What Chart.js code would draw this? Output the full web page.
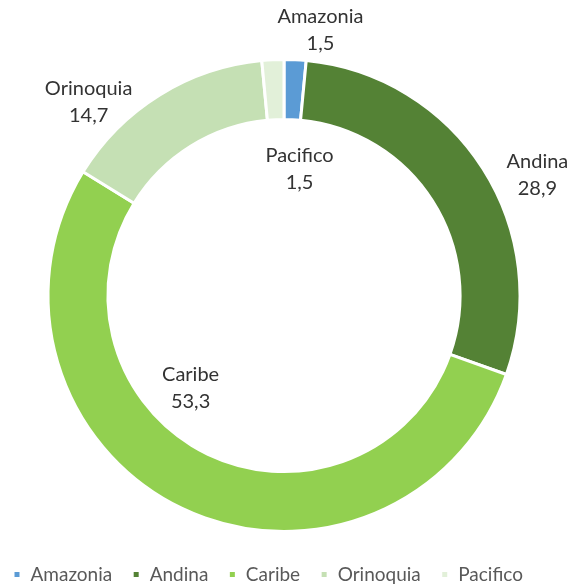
<!DOCTYPE html>
<html lang="es">
<head>
    <meta charset="UTF-8">
    <title>Regiones</title>
    <script src="https://cdn.jsdelivr.net/npm/chart.js@4.4.0/dist/chart.umd.min.js"></script>
    <style>
        html, body { margin: 0; padding: 0; background: #fff; }
        #wrap { width: 569px; height: 585px; }
    </style>
</head>
<body>
    <div id="wrap"><canvas id="chartCanvas" width="569" height="585"></canvas></div>
    <script>
        var regions = ['Amazonia', 'Andina', 'Caribe', 'Orinoquia', 'Pacifico'];
        var shares = [1.5, 28.9, 53.3, 14.7, 1.5];
        var colors = ['#5B9BD5', '#548235', '#92D050', '#C5E0B4', '#E2F0D9'];

        // where each data label sits: [radius as part of outer radius, angle shift in degrees]
        var labelPlace = [[1.136, 5.1], [1.189, 7.1], [0.557, 19.7], [1.165, -13.4], [0.54, 9.7]];

        var FONT = 'Lato';

        var ringLabels = {
            id: 'ringLabels',
            afterDatasetsDraw: function(chart) {
                var ctx = chart.ctx;
                var arcs = chart.getDatasetMeta(0).data;
                ctx.save();
                ctx.fillStyle = '#333333';
                ctx.font = '20px ' + FONT;
                ctx.textAlign = 'center';
                ctx.textBaseline = 'middle';
                arcs.forEach(function(arc, i) {
                    var p = arc.getProps(['x', 'y', 'startAngle', 'endAngle', 'outerRadius']);
                    var mid = (p.startAngle + p.endAngle) / 2 + labelPlace[i][1] * Math.PI / 180;
                    var r = p.outerRadius * labelPlace[i][0];
                    var x = p.x + Math.cos(mid) * r;
                    var y = p.y + Math.sin(mid) * r;
                    ctx.fillText(regions[i], x, y - 13.5);
                    ctx.fillText(shares[i].toFixed(1).replace('.', ','), x, y + 13.5);
                });
                ctx.restore();
            }
        };

        const ctx = document.getElementById('chartCanvas').getContext('2d');
        const chart = new Chart(ctx, {
            type: 'doughnut',
            data: {
                labels: regions,
                datasets: [{
                    data: shares,
                    backgroundColor: colors,
                    borderColor: '#ffffff',
                    borderWidth: 3
                }]
            },
            options: {
                responsive: false,
                animation: false,
                cutout: '74.6%',
                layout: {
                    padding: { top: 58, left: -7, right: 1, bottom: -9 }
                },
                plugins: {
                    tooltip: { enabled: false },
                    legend: {
                        position: 'bottom',
                        align: 'start',
                        title: {
                            display: true,
                            text: ' ',
                            padding: 0,
                            font: { size: 12, lineHeight: 1 }
                        },
                        labels: {
                            boxWidth: 8,
                            boxHeight: 8,
                            padding: 20,
                            color: '#595959',
                            font: { family: FONT, size: 19 }
                        }
                    }
                }
            },
            plugins: [ringLabels]
        });
    </script>
</body>
</html>
